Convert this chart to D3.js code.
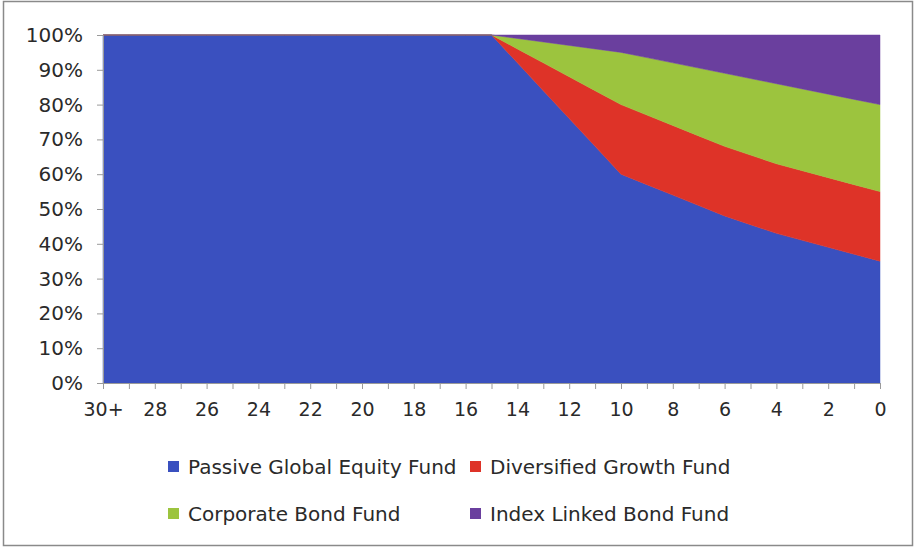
<!DOCTYPE html>
<html lang="en">
<head>
    <meta charset="UTF-8">
    <title>Fund Allocation by Years to Retirement</title>
    <script src="https://cdnjs.cloudflare.com/ajax/libs/d3/7.8.5/d3.min.js"></script>
    <style>
        body { margin: 0; background: #fff; }
        svg { display: block; }
        .tick text { fill: #2a2a2a; }
    </style>
</head>
<body>
    <svg id="chart" width="915" height="549"></svg>

    <script>
        // years to retirement, left to right
        const years = ["30+", "29", "28", "27", "26", "25", "24", "23", "22", "21", "20", "19", "18", "17", "16",
                       "15", "14", "13", "12", "11", "10", "9", "8", "7", "6", "5", "4", "3", "2", "1", "0"];
        const yTickLabels = ["0%", "10%", "20%", "30%", "40%", "50%", "60%", "70%", "80%", "90%", "100%"];

        const equity =      [100, 100, 100, 100, 100, 100, 100, 100, 100, 100, 100, 100, 100, 100, 100,
                             100, 92, 84, 76, 68, 60, 57, 54, 51, 48, 45.5, 43, 41, 39, 37, 35];
        const diversified = [0, 0, 0, 0, 0, 0, 0, 0, 0, 0, 0, 0, 0, 0, 0,
                             0, 4, 8, 12, 16, 20, 20, 20, 20, 20, 20, 20, 20, 20, 20, 20];
        const corporate =   [0, 0, 0, 0, 0, 0, 0, 0, 0, 0, 0, 0, 0, 0, 0,
                             0, 3, 6, 9, 12, 15, 16.5, 18, 19.5, 21, 22, 23, 23.5, 24, 24.5, 25];
        const indexLinked = [0, 0, 0, 0, 0, 0, 0, 0, 0, 0, 0, 0, 0, 0, 0,
                             0, 1, 2, 3, 4, 5, 6.5, 8, 9.5, 11, 12.5, 14, 15.5, 17, 18.5, 20];

        const seriesNames = ["Passive Global Equity Fund", "Diversified Growth Fund", "Corporate Bond Fund", "Index Linked Bond Fund"];
        const seriesColors = ["#3a50bf", "#de3328", "#9cc43e", "#6a3f9e"];

        const svg = d3.select("#chart");
        const font = "'DejaVu Sans', sans-serif";

        // outer frame
        svg.append("rect")
            .attr("x", 3.5).attr("y", 1.5)
            .attr("width", 909).attr("height", 544)
            .attr("fill", "none")
            .attr("stroke", "#8a8a8a")
            .attr("stroke-width", 1.5);

        const margin = { left: 103, right: 880, top: 35, bottom: 383 };

        const x = d3.scalePoint()
            .domain(years)
            .range([margin.left, margin.right]);

        const y = d3.scaleLinear()
            .domain([0, 100])
            .range([margin.bottom, margin.top]);

        const table = years.map((yr, i) => ({
            year: yr,
            [seriesNames[0]]: equity[i],
            [seriesNames[1]]: diversified[i],
            [seriesNames[2]]: corporate[i],
            [seriesNames[3]]: indexLinked[i]
        }));

        const stacked = d3.stack().keys(seriesNames)(table);

        const area = d3.area()
            .x(d => x(d.data.year))
            .y0(d => y(d[0]))
            .y1(d => y(d[1]));

        svg.append("g")
            .selectAll("path")
            .data(stacked)
            .join("path")
            .attr("d", area)
            .attr("fill", (d, i) => seriesColors[i])
            .attr("stroke", (d, i) => seriesColors[i])
            .attr("stroke-width", 0.5);

        // y axis
        const yAxis = svg.append("g")
            .attr("transform", `translate(${margin.left},0)`)
            .call(d3.axisLeft(y)
                .tickValues(d3.range(0, 101, 10))
                .tickFormat((d, i) => yTickLabels[i])
                .tickSize(6)
                .tickPadding(14));
        yAxis.select(".domain").attr("stroke", "#9a9a9a");
        yAxis.selectAll(".tick line").attr("stroke", "#9a9a9a");
        yAxis.selectAll("text")
            .attr("font-family", font)
            .attr("font-size", 20);

        // x axis
        const xAxis = svg.append("g")
            .attr("transform", `translate(0,${margin.bottom})`)
            .call(d3.axisBottom(x)
                .tickFormat((d, i) => i % 2 === 0 ? d : "")
                .tickSize(6)
                .tickSizeOuter(0)
                .tickPadding(14));
        xAxis.select(".domain").attr("stroke", "#9a9a9a");
        xAxis.selectAll(".tick line").attr("stroke", "#9a9a9a");
        xAxis.selectAll("text")
            .attr("font-family", font)
            .attr("font-size", 19);

        // legend
        const legendPos = [[168, 467], [470, 467], [168, 514], [470, 514]];
        const legend = svg.append("g")
            .selectAll("g")
            .data(seriesNames)
            .join("g")
            .attr("transform", (d, i) => `translate(${legendPos[i][0]},${legendPos[i][1]})`);

        legend.append("rect")
            .attr("x", 0).attr("y", -6)
            .attr("width", 11).attr("height", 11)
            .attr("fill", (d, i) => seriesColors[i]);

        legend.append("text")
            .attr("x", 20)
            .attr("dy", "0.35em")
            .attr("font-family", font)
            .attr("font-size", 20)
            .attr("fill", "#2a2a2a")
            .text(d => d);
    </script>
</body>
</html>
